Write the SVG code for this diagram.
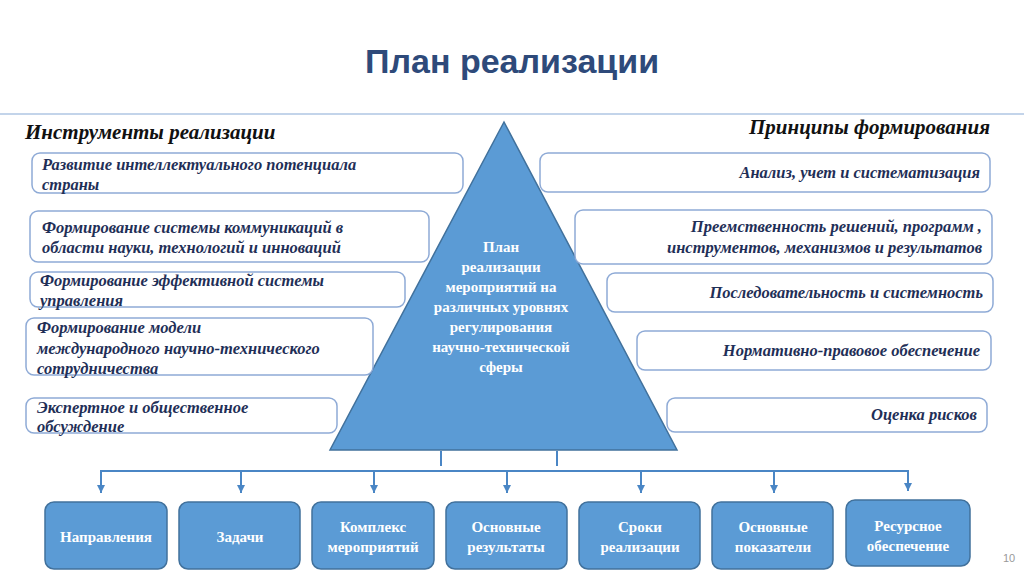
<svg xmlns="http://www.w3.org/2000/svg" width="1024" height="576" viewBox="0 0 1024 576">
<defs>
<style>
.lb{fill:#fff;stroke:#8eaad6;stroke-width:1.5}
.lt{font-family:"Liberation Serif",serif;font-style:italic;font-weight:bold;font-size:16.5px;fill:#1f2f57}
.hd{font-family:"Liberation Serif",serif;font-style:italic;font-weight:bold;font-size:21px;fill:#111}
.bb{fill:#5b9bd5;stroke:#41719c;stroke-width:1.5}
.bt{font-family:"Liberation Serif",serif;font-weight:bold;font-size:15px;fill:#fff;text-anchor:middle}
.cn{stroke:#4a86c5;stroke-width:2;fill:none}
</style>
<marker id="ar" markerWidth="10" markerHeight="10" refX="5" refY="8" orient="0" markerUnits="userSpaceOnUse"><path d="M1,0 L5,8 L9,0 Z" fill="#4a86c5"/></marker>
</defs>
<rect width="1024" height="576" fill="#fff"/>
<text x="512" y="73" text-anchor="middle" font-family="Liberation Sans,sans-serif" font-weight="bold" font-size="34" fill="#2e4a7a">План реализации</text>
<line x1="0" y1="114" x2="1024" y2="114" stroke="#c3d4ea" stroke-width="2"/>
<text class="hd" x="25" y="139">Инструменты реализации</text>
<text class="hd" x="990" y="134" text-anchor="end">Принципы формирования</text>
<g id="pyramid"><path d="M504,122 L677,450 L330,450 Z" fill="#5b9bd5" stroke="#41719c" stroke-width="1.5"/>
<text class="bt" font-size="15.5">
<tspan x="501" y="252">План</tspan><tspan x="501" y="272">реализации</tspan><tspan x="501" y="292">мероприятий на</tspan><tspan x="501" y="312">различных уровнях</tspan><tspan x="501" y="332">регулирования</tspan><tspan x="501" y="352">научно-технической</tspan><tspan x="501" y="372">сферы</tspan></text></g>
<g id="l1"><rect class="lb" x="32" y="153" width="431" height="40" rx="8"/><text class="lt"><tspan x="42" y="170">Развитие интеллектуального потенциала</tspan><tspan x="42" y="190">страны</tspan></text></g>
<g id="l2"><rect class="lb" x="30" y="211" width="399" height="51" rx="8"/><text class="lt"><tspan x="42" y="233">Формирование системы коммуникаций в</tspan><tspan x="42" y="253">области науки, технологий и инноваций</tspan></text></g>
<g id="l3"><rect class="lb" x="30" y="272" width="375" height="35" rx="8"/><text class="lt"><tspan x="40" y="286">Формирование  эффективной системы</tspan><tspan x="40" y="306">управления</tspan></text></g>
<g id="l4"><rect class="lb" x="26" y="318" width="347" height="57" rx="8"/><text class="lt"><tspan x="37" y="333">Формирование модели</tspan><tspan x="37" y="354">международного научно-технического</tspan><tspan x="37" y="374">сотрудничества</tspan></text></g>
<g id="l5"><rect class="lb" x="26" y="398" width="311" height="35" rx="8"/><text class="lt"><tspan x="37" y="413">Экспертное и общественное</tspan><tspan x="37" y="432">обсуждение</tspan></text></g>
<g id="r1"><rect class="lb" x="540" y="153" width="450" height="39" rx="8"/><text class="lt" x="980" y="178" text-anchor="end">Анализ, учет  и систематизация</text></g>
<g id="r2"><rect class="lb" x="575" y="210" width="417" height="54" rx="8"/><text class="lt" text-anchor="end"><tspan x="982" y="232">Преемственность решений, программ ,</tspan><tspan x="982" y="253">инструментов, механизмов и  результатов</tspan></text></g>
<g id="r3"><rect class="lb" x="607" y="273" width="386" height="39" rx="8"/><text class="lt" x="983" y="298" text-anchor="end">Последовательность и системность</text></g>
<g id="r4"><rect class="lb" x="637" y="331" width="354" height="39" rx="8"/><text class="lt" x="980" y="356" text-anchor="end">Нормативно-правовое  обеспечение</text></g>
<g id="r5"><rect class="lb" x="667" y="398" width="320" height="34" rx="8"/><text class="lt" x="977" y="420" text-anchor="end">Оценка рисков</text></g>
<g id="connectors">
<line class="cn" x1="441" y1="451" x2="441" y2="466"/><line class="cn" x1="557" y1="451" x2="557" y2="466"/>
<line class="cn" x1="100" y1="471" x2="909" y2="471"/>
<line class="cn" marker-end="url(#ar)" x1="101" y1="471" x2="101" y2="493"/>
<line class="cn" marker-end="url(#ar)" x1="241" y1="471" x2="241" y2="493"/>
<line class="cn" marker-end="url(#ar)" x1="374" y1="471" x2="374" y2="493"/>
<line class="cn" marker-end="url(#ar)" x1="507" y1="471" x2="507" y2="493"/>
<line class="cn" marker-end="url(#ar)" x1="641" y1="471" x2="641" y2="493"/>
<line class="cn" marker-end="url(#ar)" x1="774" y1="471" x2="774" y2="493"/>
<line class="cn" marker-end="url(#ar)" x1="908" y1="471" x2="908" y2="491"/>
</g>
<g id="b1"><rect class="bb" x="45" y="502" width="122" height="67" rx="9"/><text class="bt" x="106" y="542">Направления</text></g>
<g id="b2"><rect class="bb" x="179" y="502" width="121" height="67" rx="9"/><text class="bt" x="240" y="542">Задачи</text></g>
<g id="b3"><rect class="bb" x="312" y="502" width="122" height="67" rx="9"/><text class="bt"><tspan x="373" y="532">Комплекс</tspan><tspan x="373" y="552">мероприятий</tspan></text></g>
<g id="b4"><rect class="bb" x="446" y="502" width="121" height="67" rx="9"/><text class="bt"><tspan x="506" y="532">Основные</tspan><tspan x="506" y="552">результаты</tspan></text></g>
<g id="b5"><rect class="bb" x="579" y="502" width="121" height="67" rx="9"/><text class="bt"><tspan x="640" y="532">Сроки</tspan><tspan x="640" y="552">реализации</tspan></text></g>
<g id="b6"><rect class="bb" x="712" y="502" width="121" height="67" rx="9"/><text class="bt"><tspan x="773" y="532">Основные</tspan><tspan x="773" y="552">показатели</tspan></text></g>
<g id="b7"><rect class="bb" x="846" y="500" width="124" height="66" rx="9"/><text class="bt"><tspan x="908" y="531">Ресурсное</tspan><tspan x="908" y="551">обеспечение</tspan></text></g>
<text x="1003" y="562" font-family="Liberation Sans,sans-serif" font-size="11" fill="#999">10</text>
</svg>
